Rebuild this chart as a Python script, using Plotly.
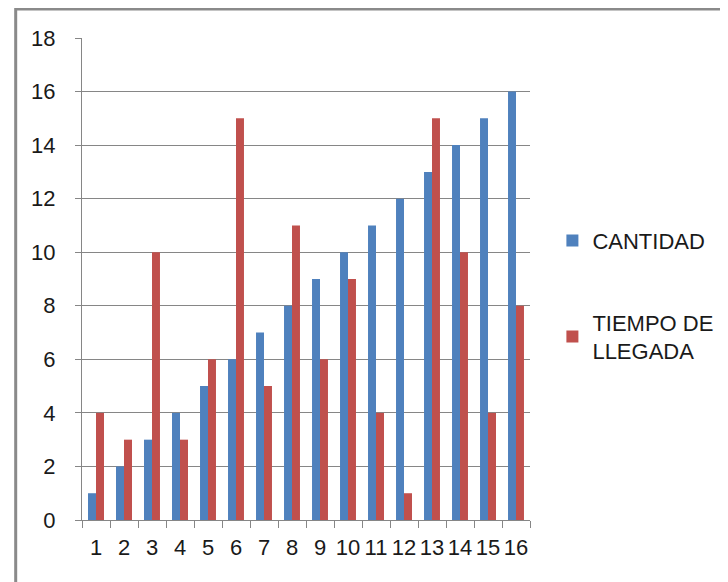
import plotly.graph_objects as go

# data
categorias = [str(i) for i in range(1, 17)]
cantidad = [1, 2, 3, 4, 5, 6, 7, 8, 9, 10, 11, 12, 13, 14, 15, 16]
tiempo_llegada = [4, 3, 10, 3, 6, 15, 5, 11, 6, 9, 4, 1, 15, 10, 4, 8]

AZUL = "#4F81BD"
ROJO = "#C0504D"
GRIS = "#868686"
FUENTE = dict(family="Liberation Sans, Arial, sans-serif", size=22, color="#1a1a1a")

fig = go.Figure()
fig.add_trace(go.Bar(x=categorias, y=cantidad, name="CANTIDAD",
                     marker=dict(color=AZUL, line=dict(width=0)), legendgroup="a"))
fig.add_trace(go.Bar(x=categorias, y=tiempo_llegada, name="TIEMPO DE<br>LLEGADA",
                     marker=dict(color=ROJO, line=dict(width=0)), legendgroup="b"))

# page body has an 8px margin, so the figure is a bit smaller than the window
fig.update_layout(
    width=720, height=574,
    margin=dict(l=74, r=198, t=30, b=62, autoexpand=False),
    paper_bgcolor="white", plot_bgcolor="white",
    font=FUENTE,
    barmode="group", bargap=0.43, bargroupgap=0,
    showlegend=True,
    legend=dict(x=1.05, y=0.623, xanchor="left", yanchor="top",
                tracegroupgap=50, font=FUENTE, itemwidth=30),
    xaxis=dict(type="category", tickson="boundaries", ticks="outside", ticklen=7,
               tickcolor=GRIS, showline=True, linecolor=GRIS, linewidth=1,
               showgrid=False, tickangle=0, ticklabelstandoff=8),
    yaxis=dict(range=[0, 18], dtick=2, ticks="outside", ticklen=6, tickcolor=GRIS,
               showline=True, linecolor=GRIS, linewidth=1,
               showgrid=True, gridcolor=GRIS, gridwidth=1,
               zeroline=False, ticklabelstandoff=15),
)

# outer chart frame (left and top edges visible in the reference)
fig.add_shape(type="path", xref="paper", yref="paper",
              path="M -0.148,-0.3 L -0.148,1.06 L 1.6,1.06",
              line=dict(color="#8a8a8a", width=3))

fig.write_html("out.html")
